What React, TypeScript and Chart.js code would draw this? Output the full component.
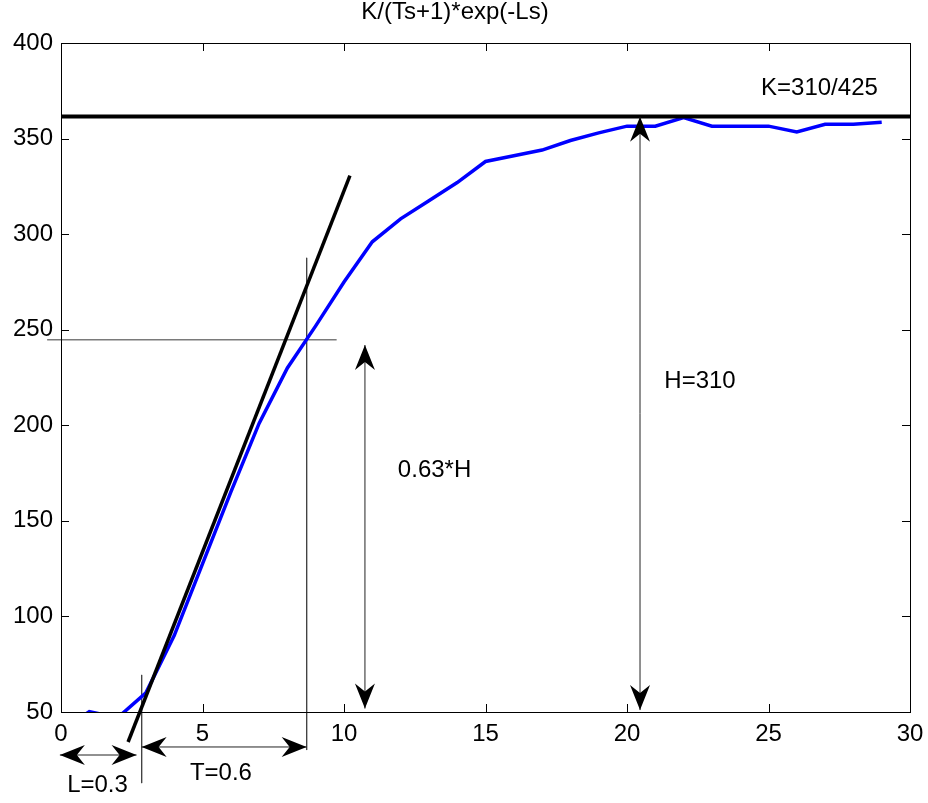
import React, { useEffect, useRef } from "react";
import { Chart, registerables } from "chart.js";

Chart.register(...registerables);

// ---- data ----
const timeSteps = [0, 1, 2, 3, 4, 5, 6, 7, 8, 9, 10, 11, 12, 13, 14, 15, 16, 17, 18, 19, 20, 21, 22, 23, 24, 25, 26, 27, 28, 29];
const response = [40, 50.2, 47, 60, 90, 127.5, 165, 201, 230, 252, 275, 296, 308, 317.5, 327, 338, 341, 344, 349, 353, 356.5, 356.5, 361, 356.5, 356.5, 356.5, 353.5, 357.5, 357.5, 358.5];

const tangentX = [2.37, 10.21];
const tangentY = [34.3, 330.6];
const kLineX = [0, 30];
const kLineY = [361.5, 361.5];
const level63X = [-0.49, 9.74];
const level63Y = [244.7, 244.7];
const vertTX = [8.68, 8.68];
const vertTY = [287.6, 30.1];
const vertLX = [2.85, 2.85];
const vertLY = [69.4, 12.8];

// double arrows: [x1, y1, x2, y2]
const arrowL = [-0.04, 27.5, 2.67, 27.5];
const arrowT = [2.85, 31.7, 8.68, 31.7];
const arrow63 = [10.74, 51.8, 10.74, 242.0];
const arrowH = [20.46, 51.0, 20.46, 361.4];

const labelTexts = ["K=310/425", "H=310", "0.63*H", "L=0.3", "T=0.6"];
const labelX = [26.8, 22.58, 13.2, 1.29, 5.65];
const labelY = [376.5, 223.2, 176.6, 11.8, 18.1];

const xTicks = [0, 5, 10, 15, 20, 25, 30];
const yTicks = [50, 100, 150, 200, 250, 300, 350, 400];
const titleText = "K/(Ts+1)*exp(-Ls)";

const FONT = "'Liberation Sans', Arial, Helvetica, sans-serif";
const FS = 24;

function pts(xa: number[], ya: number[]) {
  return xa.map((x, i) => ({ x, y: ya[i] }));
}

function drawHead(ctx: CanvasRenderingContext2D, tx: number, ty: number, dx: number, dy: number) {
  const len = Math.hypot(dx, dy) || 1;
  const ux = dx / len, uy = dy / len;
  const nx = -uy, ny = ux;
  const L = 25, W = 10, N = 8;
  ctx.beginPath();
  ctx.moveTo(tx, ty);
  ctx.lineTo(tx - ux * L + nx * W, ty - uy * L + ny * W);
  ctx.lineTo(tx - ux * (L - N), ty - uy * (L - N));
  ctx.lineTo(tx - ux * L - nx * W, ty - uy * L - ny * W);
  ctx.closePath();
  ctx.fill();
}

const annotPlugin = {
  id: "annot",
  afterDraw(chart: any) {
    const ctx: CanvasRenderingContext2D = chart.ctx;
    const xs = chart.scales.x;
    const ys = chart.scales.y;
    const a = chart.chartArea;
    ctx.save();
    // box
    ctx.strokeStyle = "#000";
    ctx.lineWidth = 1;
    ctx.strokeRect(Math.round(a.left) + 0.5, Math.round(a.top) + 0.5, Math.round(a.right - a.left), Math.round(a.bottom - a.top));
    // inward ticks
    const TL = 8;
    ctx.beginPath();
    xTicks.forEach((v) => {
      const px = Math.round(xs.getPixelForValue(v)) + 0.5;
      ctx.moveTo(px, a.bottom);
      ctx.lineTo(px, a.bottom - TL);
      ctx.moveTo(px, a.top);
      ctx.lineTo(px, a.top + TL);
    });
    yTicks.forEach((v) => {
      const py = Math.round(ys.getPixelForValue(v)) + 0.5;
      ctx.moveTo(a.left, py);
      ctx.lineTo(a.left + TL, py);
      ctx.moveTo(a.right, py);
      ctx.lineTo(a.right - TL, py);
    });
    ctx.stroke();

    // arrows
    const arrows = [arrowL, arrowT, arrow63, arrowH];
    ctx.fillStyle = "#000";
    arrows.forEach((ar) => {
      const x1 = xs.getPixelForValue(ar[0]);
      const y1 = ys.getPixelForValue(ar[1]);
      const x2 = xs.getPixelForValue(ar[2]);
      const y2 = ys.getPixelForValue(ar[3]);
      ctx.strokeStyle = "#222";
      ctx.lineWidth = 1;
      ctx.beginPath();
      ctx.moveTo(x1, y1);
      ctx.lineTo(x2, y2);
      ctx.stroke();
      drawHead(ctx, x1, y1, x1 - x2, y1 - y2);
      drawHead(ctx, x2, y2, x2 - x1, y2 - y1);
    });

    // labels
    ctx.fillStyle = "#000";
    ctx.font = `${FS}px ${FONT}`;
    ctx.textAlign = "center";
    ctx.textBaseline = "middle";
    labelTexts.forEach((t, i) => {
      ctx.fillText(t, xs.getPixelForValue(labelX[i]), ys.getPixelForValue(labelY[i]));
    });
    ctx.restore();
  },
};

export default function App() {
  const ref = useRef<HTMLCanvasElement | null>(null);
  useEffect(() => {
    document.body.style.margin = "0";
    const canvas = ref.current;
    if (!canvas) return;
    const chart = new Chart(canvas, {
      type: "line",
      data: {
        datasets: [
          { data: pts(tangentX, tangentY), borderColor: "#000", borderWidth: 3.5, pointRadius: 0, clip: false as any, order: 0 },
          { data: pts(kLineX, kLineY), borderColor: "#000", borderWidth: 4, pointRadius: 0, clip: false as any, order: 1 },
          { data: pts(timeSteps, response), borderColor: "#0000ff", borderWidth: 3.5, pointRadius: 0, clip: 0 as any, order: 2 },
          { data: pts(level63X, level63Y), borderColor: "#7a7a7a", borderWidth: 1.5, pointRadius: 0, clip: false as any, order: 3 },
          { data: pts(vertTX, vertTY), borderColor: "#444", borderWidth: 1, pointRadius: 0, clip: false as any, order: 4 },
          { data: pts(vertLX, vertLY), borderColor: "#444", borderWidth: 1, pointRadius: 0, clip: false as any, order: 5 },
        ],
      },
      options: {
        responsive: false,
        animation: false,
        events: [],
        layout: { padding: { left: 0, right: 18, top: 0, bottom: 0 } },
        plugins: {
          legend: { display: false },
          tooltip: { enabled: false },
          title: {
            display: true,
            text: titleText,
            color: "#000",
            font: { family: FONT, size: FS, weight: "normal" as any, lineHeight: 1.0 },
            padding: { top: 0, bottom: 19 },
          },
        },
        scales: {
          x: {
            type: "linear",
            min: 0,
            max: 30,
            grid: { display: false, drawTicks: false },
            border: { display: false },
            afterFit: (s: any) => { s.height = 91; s.paddingLeft = 0; s.paddingRight = 0; },
            afterBuildTicks: (s: any) => { s.ticks = xTicks.map((v) => ({ value: v })); },
            ticks: { color: "#000", font: { family: FONT, size: FS }, padding: 8, maxRotation: 0, autoSkip: false },
          },
          y: {
            type: "linear",
            min: 50,
            max: 400,
            grid: { display: false, drawTicks: false },
            border: { display: false },
            afterFit: (s: any) => { s.width = 61; s.paddingTop = 0; s.paddingBottom = 0; },
            afterBuildTicks: (s: any) => { s.ticks = yTicks.map((v) => ({ value: v })); },
            ticks: { color: "#000", font: { family: FONT, size: FS }, padding: 8, autoSkip: false },
          },
        },
      },
      plugins: [annotPlugin],
    });
    return () => chart.destroy();
  }, []);
  return <canvas ref={ref} width={928} height={803} style={{ display: "block" }} />;
}
